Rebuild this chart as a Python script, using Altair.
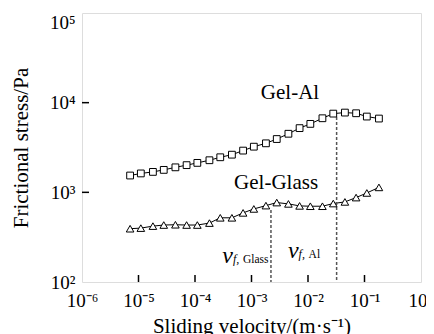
import altair as alt
import pandas as pd

# ---- data ----
velocity = [7.1e-6, 1.1e-5, 1.8e-5, 2.8e-5, 4.5e-5, 7.1e-5, 1.1e-4, 1.8e-4, 2.8e-4,
            4.5e-4, 7.1e-4, 1.1e-3, 1.8e-3, 2.8e-3, 4.5e-3, 7.1e-3, 1.1e-2, 1.8e-2,
            2.8e-2, 4.5e-2, 7.1e-2, 0.11, 0.18]
gel_al = [1540, 1625, 1690, 1780, 1900, 2010, 2130, 2280, 2460, 2630, 2920, 3230,
          3520, 3930, 4500, 5200, 5800, 6700, 7550, 7750, 7620, 7000, 6650]
gel_glass = [393, 399, 420, 432, 435, 432, 432, 454, 520, 520, 590, 653, 711, 769,
             743, 706, 700, 700, 750, 782, 874, 984, 1135]

x_ticks = [1e-6, 1e-5, 1e-4, 1e-3, 1e-2, 1e-1, 1]
x_tick_labels = ["10⁻⁶", "10⁻⁵", "10⁻⁴", "10⁻³", "10⁻²", "10⁻¹", "10⁰"]
y_ticks = [100, 1000, 10000, 100000]
y_tick_labels = ["10²", "10³", "10⁴", "10⁵"]

vf_names = ["Glass", "Al"]
vf_velocity = [2.21e-3, 3.21e-2]
vf_top = [635, 6900]
vf_label_y = [163, 185]

series_labels = ["Gel-Al", "Gel-Glass"]
series_label_x = [4.8e-3, 2.72e-3]
series_label_y = [12800, 1270]

FONT = "Liberation Serif"

df = pd.DataFrame({"v": velocity, "al": gel_al, "glass": gel_glass})
vf = pd.DataFrame({"name": vf_names, "x": vf_velocity, "top": vf_top,
                   "bottom": [100, 100], "ly": vf_label_y})
lab = pd.DataFrame({"text": series_labels, "x": series_label_x, "y": series_label_y})
xt = pd.DataFrame({"x": x_ticks[1:-1]})
yt = pd.DataFrame({"y": y_ticks[1:-1]})


def label_expr(ticks, labels):
    expr = "''"
    for t, l in reversed(list(zip(ticks, labels))):
        expr = f"(datum.value < {t * 3.0}) ? '{l}' : ({expr})"
    return expr


xscale = alt.Scale(type="log", domain=[1e-6, 1], nice=False)
yscale = alt.Scale(type="log", domain=[100, 100000], nice=False)

xaxis = alt.Axis(values=x_ticks, labelExpr=label_expr(x_ticks, x_tick_labels),
                 title="Sliding velocity/(m·s⁻¹)", labelFont=FONT, labelFontSize=19,
                 labelColor="black", labelPadding=9, labelFlush=False,
                 titleFont=FONT, titleFontSize=21, titleFontWeight="normal",
                 titleColor="black", titleX=169.5, titleY=50,
                 titleBaseline="alphabetic", titleAlign="center",
                 ticks=False, tickSize=0, domain=False, grid=False, labelOverlap=False)
yaxis = alt.Axis(values=y_ticks, labelExpr=label_expr(y_ticks, y_tick_labels),
                 title="Frictional stress/Pa", labelFont=FONT, labelFontSize=19,
                 labelColor="black", labelPadding=7, labelFlush=False,
                 labelBaseline={"condition": {"test": "datum.value > 50000", "value": "top"},
                                "value": "middle"},
                 titleFont=FONT, titleFontSize=21, titleFontWeight="normal",
                 titleColor="black", titleX=-55, titleY=134.5, titleAngle=270,
                 titleBaseline="alphabetic", titleAlign="center",
                 ticks=False, tickSize=0, domain=False, grid=False, labelOverlap=False)

base = alt.Chart(df)

al_line = base.mark_line(color="black", strokeWidth=1).encode(
    x=alt.X("v:Q", scale=xscale, axis=xaxis), y=alt.Y("al:Q", scale=yscale, axis=yaxis))
al_pts = base.mark_point(shape="square", filled=True, fill="white", stroke="black",
                         strokeWidth=1, size=46, opacity=1).encode(
    x=alt.X("v:Q", scale=xscale), y=alt.Y("al:Q", scale=yscale))
gl_line = base.mark_line(color="black", strokeWidth=1).encode(
    x=alt.X("v:Q", scale=xscale), y=alt.Y("glass:Q", scale=yscale))
gl_pts = base.mark_point(shape="triangle-up", filled=True, fill="white", stroke="black",
                         strokeWidth=1, size=58, opacity=1).encode(
    x=alt.X("v:Q", scale=xscale), y=alt.Y("glass:Q", scale=yscale))

vf_rules = alt.Chart(vf).mark_rule(color="#555555", strokeWidth=1.5, strokeDash=[3, 2]).encode(
    x=alt.X("x:Q", scale=xscale), y=alt.Y("top:Q", scale=yscale), y2="bottom:Q")

vf_v = alt.Chart(vf).mark_text(text="v", font=FONT, fontStyle="italic", fontSize=24,
                               align="right", baseline="alphabetic", dx=-38, color="black").encode(
    x=alt.X("x:Q", scale=xscale), y=alt.Y("ly:Q", scale=yscale))
vf_f = alt.Chart(vf).mark_text(text="f,", font=FONT, fontStyle="italic", fontSize=12,
                               align="left", baseline="alphabetic", dx=-38, color="black").encode(
    x=alt.X("x:Q", scale=xscale), y=alt.Y("ly:Q", scale=yscale))
vf_n = alt.Chart(vf).mark_text(font=FONT, fontSize=11.5, align="left",
                               baseline="alphabetic", dx=-28, color="black").encode(
    x=alt.X("x:Q", scale=xscale), y=alt.Y("ly:Q", scale=yscale), text="name:N")

series_text = alt.Chart(lab).mark_text(font=FONT, fontSize=21, align="center",
                                       baseline="middle", color="black").encode(
    x=alt.X("x:Q", scale=xscale), y=alt.Y("y:Q", scale=yscale), text="text:N")

xtick_rules = alt.Chart(xt).mark_rule(color="black", strokeWidth=1.5).encode(
    x=alt.X("x:Q", scale=xscale), y=alt.value(269), y2=alt.value(262))
ytick_rules = alt.Chart(yt).mark_rule(color="black", strokeWidth=1.5).encode(
    y=alt.Y("y:Q", scale=yscale), x=alt.value(0), x2=alt.value(7))

chart = alt.layer(al_line, gl_line, vf_rules, al_pts, gl_pts, vf_v, vf_f, vf_n,
                  series_text, xtick_rules, ytick_rules).properties(
    width=339, height=269,
    padding={"left": 74, "top": 5, "right": 5, "bottom": 52},
    autosize=alt.AutoSizeParams(type="none"),
).configure_view(stroke="black", strokeWidth=1.5).configure(background="white")

chart.save("out.html", embed_options={"renderer": "svg", "actions": False})
